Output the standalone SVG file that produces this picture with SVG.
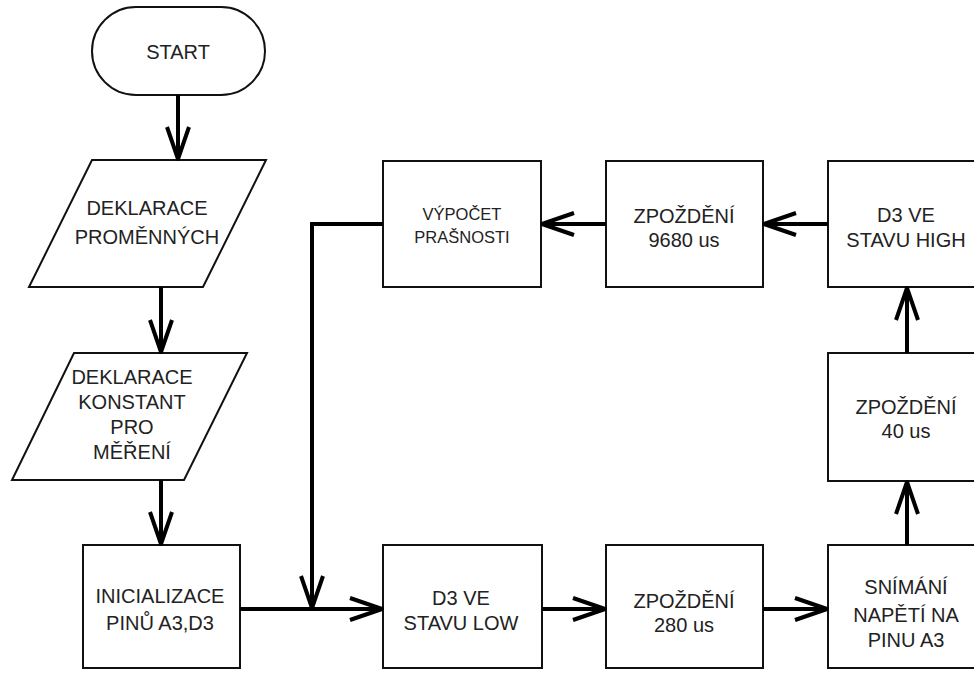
<svg xmlns="http://www.w3.org/2000/svg" width="974" height="673" viewBox="0 0 974 673">
<style>
.shape{fill:#fff;stroke:#111;stroke-width:2}
.t{font-family:"Liberation Sans",Arial,sans-serif;font-size:20px;fill:#222;text-anchor:middle}
.ts{font-size:16.5px}
.c{fill:none;stroke:#000;stroke-width:4}
</style>
<defs>
<marker id="ah" viewBox="-36 -13 38 26" refX="0" refY="0" markerWidth="38" markerHeight="26" markerUnits="userSpaceOnUse" orient="auto">
<path d="M-33,-11 L-1,0 L-33,11" fill="none" stroke="#000" stroke-width="4" stroke-linejoin="round" stroke-linecap="butt"/>
</marker>
</defs>
<rect width="974" height="673" fill="#fff"/>
<g id="start">
<rect class="shape" x="92" y="7" width="173" height="88" rx="44" ry="44"/>
<text class="t" x="178" y="59">START</text>
</g>
<g id="deklarace-promennych">
<polygon class="shape" points="92,160 266,160 203,287 29,287"/>
<text class="t" x="147" y="215">DEKLARACE</text>
<text class="t" x="147" y="244">PROMĚNNÝCH</text>
</g>
<g id="deklarace-konstant">
<polygon class="shape" points="74,353 247,353 184,480 12,480"/>
<text class="t" x="132" y="384">DEKLARACE</text>
<text class="t" x="132" y="409">KONSTANT</text>
<text class="t" x="132" y="434">PRO</text>
<text class="t" x="132" y="459">MĚŘENÍ</text>
</g>
<g id="inicializace">
<rect class="shape" x="83" y="545" width="157" height="123"/>
<text class="t" x="160" y="603">INICIALIZACE</text>
<text class="t" x="160" y="630">PINŮ A3,D3</text>
</g>
<g id="d3-low">
<rect class="shape" x="383" y="545" width="159" height="123"/>
<text class="t" x="461" y="605">D3 VE</text>
<text class="t" x="461" y="630">STAVU LOW</text>
</g>
<g id="zpozdeni-280">
<rect class="shape" x="606" y="545" width="157" height="123"/>
<text class="t" x="684" y="608">ZPOŽDĚNÍ</text>
<text class="t" x="684" y="632">280 us</text>
</g>
<g id="snimani">
<rect class="shape" x="828" y="545" width="157" height="123"/>
<text class="t" x="906" y="594">SNÍMÁNÍ</text>
<text class="t" x="906" y="622">NAPĚTÍ NA</text>
<text class="t" x="906" y="647">PINU A3</text>
</g>
<g id="zpozdeni-40">
<rect class="shape" x="828" y="353" width="157" height="128"/>
<text class="t" x="906" y="414">ZPOŽDĚNÍ</text>
<text class="t" x="906" y="438">40 us</text>
</g>
<g id="d3-high">
<rect class="shape" x="828" y="161" width="157" height="126"/>
<text class="t" x="906" y="222">D3 VE</text>
<text class="t" x="906" y="247">STAVU HIGH</text>
</g>
<g id="zpozdeni-9680">
<rect class="shape" x="606" y="161" width="157" height="126"/>
<text class="t" x="684" y="223">ZPOŽDĚNÍ</text>
<text class="t" x="684" y="247">9680 us</text>
</g>
<g id="vypocet">
<rect class="shape" x="383" y="161" width="158" height="126"/>
<text class="t ts" x="462" y="220">VÝPOČET</text>
<text class="t ts" x="462" y="243">PRAŠNOSTI</text>
</g>
<g id="connectors">
<path class="c" d="M178,95 L178,160" marker-end="url(#ah)"/>
<path class="c" d="M161,287 L161,353" marker-end="url(#ah)"/>
<path class="c" d="M161,480 L161,545" marker-end="url(#ah)"/>
<path class="c" d="M240,609 L383,609" marker-end="url(#ah)"/>
<path class="c" d="M542,609 L606,609" marker-end="url(#ah)"/>
<path class="c" d="M763,609 L828,609" marker-end="url(#ah)"/>
<path class="c" d="M907,545 L907,481" marker-end="url(#ah)"/>
<path class="c" d="M907,353 L907,287" marker-end="url(#ah)"/>
<path class="c" d="M828,224 L763,224" marker-end="url(#ah)"/>
<path class="c" d="M606,224 L541,224" marker-end="url(#ah)"/>
<path class="c" d="M383,224 L312,224 L312,609" marker-end="url(#ah)"/>
</g>
</svg>
